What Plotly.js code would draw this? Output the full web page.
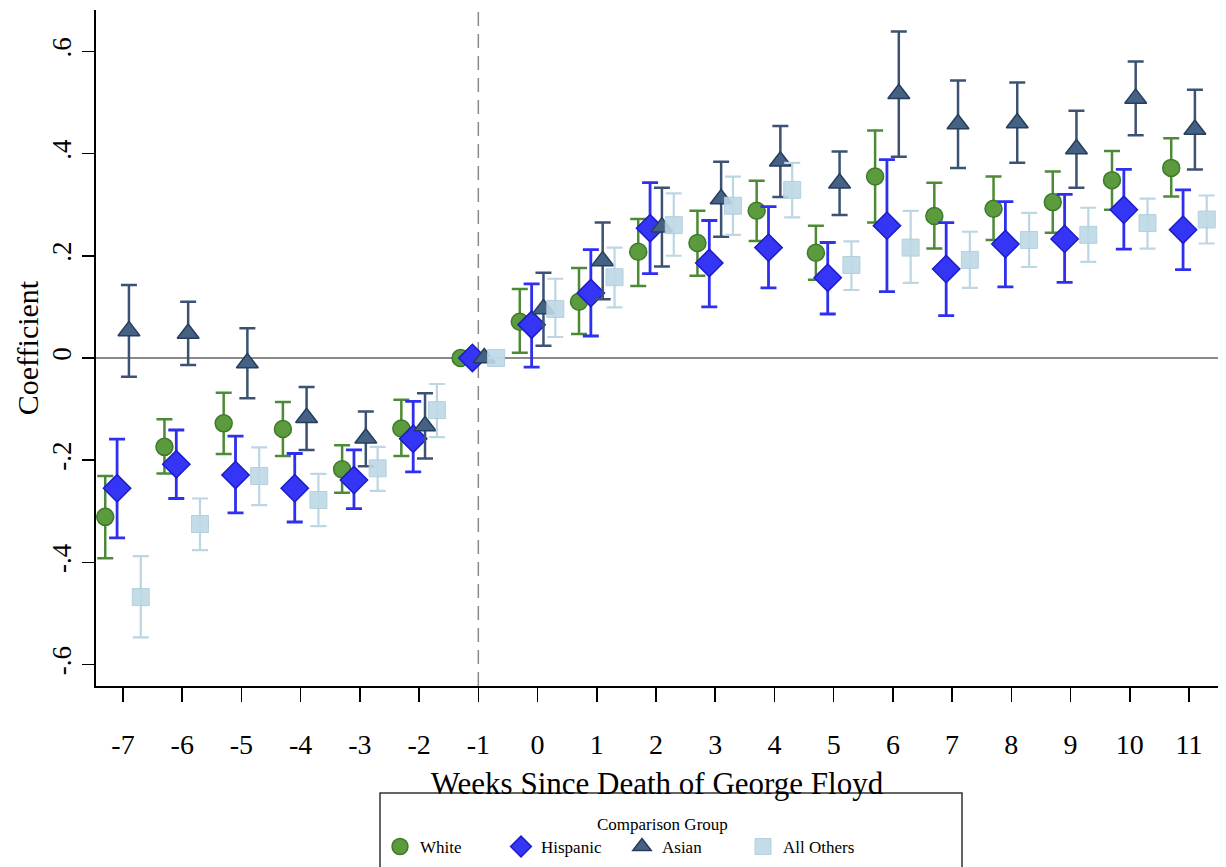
<!DOCTYPE html>
<html>
<head>
<meta charset="utf-8">
<script src="https://cdn.plot.ly/plotly-3.0.1.min.js"></script>
<style>html,body{margin:0;padding:0;background:#fff;}#chart{width:1226px;height:867px;}</style>
</head>
<body>
<div id="chart"></div>
<script>
// Weeks since death of George Floyd
const weeks = [-7,-6,-5,-4,-3,-2,-1,0,1,2,3,4,5,6,7,8,9,10,11];
const xTickLabels = ["-7","-6","-5","-4","-3","-2","-1","0","1","2","3","4","5","6","7","8","9","10","11"];
const yTickVals = [-0.6,-0.4,-0.2,0,0.2,0.4,0.6];
const yTickLabels = ["-.6","-.4","-.2","0",".2",".4",".6"];

// White
const white   = [-0.311,-0.174,-0.128,-0.139,-0.218,-0.138,0,0.071,0.110,0.208,0.225,0.288,0.206,0.355,0.278,0.292,0.305,0.348,0.372];
const whiteLo = [-0.392,-0.226,-0.188,-0.192,-0.264,-0.192,null,0.010,0.047,0.141,0.161,0.229,0.153,0.265,0.214,0.231,0.245,0.290,0.316];
const whiteHi = [-0.231,-0.120,-0.068,-0.086,-0.171,-0.082,null,0.135,0.176,0.272,0.288,0.347,0.259,0.445,0.343,0.355,0.365,0.405,0.430];
// Hispanic
const hisp    = [-0.255,-0.208,-0.229,-0.255,-0.239,-0.158,0,0.065,0.127,0.254,0.186,0.216,0.157,0.259,0.174,0.223,0.233,0.290,0.251];
const hispLo  = [-0.352,-0.275,-0.303,-0.321,-0.295,-0.223,null,-0.018,0.043,0.165,0.100,0.137,0.086,0.130,0.083,0.139,0.148,0.213,0.173];
const hispHi  = [-0.159,-0.141,-0.153,-0.187,-0.180,-0.085,null,0.145,0.212,0.343,0.269,0.296,0.226,0.388,0.265,0.306,0.320,0.369,0.329];
// Asian
const asian   = [0.053,0.048,-0.010,-0.117,-0.157,-0.133,0,0.096,0.190,0.256,0.311,0.385,0.342,0.517,0.458,0.460,0.409,0.508,0.447];
const asianLo = [-0.037,-0.014,-0.079,-0.180,-0.212,-0.197,null,0.024,0.115,0.179,0.237,0.315,0.280,0.394,0.372,0.382,0.333,0.436,0.369];
const asianHi = [0.143,0.110,0.058,-0.057,-0.105,-0.069,null,0.167,0.265,0.333,0.384,0.454,0.404,0.639,0.543,0.539,0.484,0.580,0.525];
// All Others
const others   = [-0.468,-0.325,-0.231,-0.278,-0.216,-0.102,0,0.096,0.158,0.260,0.298,0.329,0.182,0.216,0.192,0.231,0.241,0.264,0.271];
const othersLo = [-0.547,-0.376,-0.288,-0.329,-0.260,-0.155,null,0.041,0.099,0.200,0.241,0.275,0.133,0.147,0.137,0.178,0.188,0.214,0.224];
const othersHi = [-0.388,-0.275,-0.175,-0.227,-0.174,-0.051,null,0.155,0.216,0.322,0.355,0.382,0.228,0.288,0.247,0.284,0.294,0.312,0.318];

const legendTitle = 'Comparison Group';
const FONT = "Liberation Serif, Times New Roman, serif";

function series(name, vals, lo, hi, dodge, marker, errColor, errWidth) {
  return {
    type: 'scatter', mode: 'markers', name: name,
    x: weeks.map(w => w + dodge),
    y: vals,
    error_y: {
      type: 'data', symmetric: false,
      array: vals.map((v, i) => hi[i] == null ? null : hi[i] - v),
      arrayminus: vals.map((v, i) => lo[i] == null ? null : v - lo[i]),
      color: errColor, thickness: errWidth, width: 8
    },
    marker: marker,
    cliponaxis: false
  };
}

const traces = [
  series('White', white, whiteLo, whiteHi, -0.3,
    {symbol: 'circle', size: 17, color: '#5b9a3d', line: {color: '#3d7a2a', width: 1.5}}, '#4d8a35', 2.5),
  series('Hispanic', hisp, hispLo, hispHi, -0.1,
    {symbol: 'diamond', size: 21, color: '#3535f5', line: {color: '#1c1cc8', width: 1.5}}, '#2f2ff0', 2.8),
  series('Asian', asian, asianLo, asianHi, 0.1,
    {symbol: 'triangle-up', size: 19, color: '#456184', line: {color: '#263d5c', width: 1.5}}, '#3c5272', 2.5),
  series('All Others', others, othersLo, othersHi, 0.3,
    {symbol: 'square', size: 17, color: 'rgba(190,216,229,0.9)', line: {color: 'rgba(175,205,220,0.9)', width: 1}}, '#bcd6e3', 2.2)
];

const px2paperX = p => (p - 96) / 1122;
const px2paperY = p => (686 - p) / 676;

const layout = {
  width: 1226, height: 867,
  margin: {l: 96, r: 8, t: 10, b: 181, autoexpand: false},
  paper_bgcolor: '#ffffff', plot_bgcolor: '#ffffff',
  font: {family: FONT, color: '#000'},
  showlegend: true,
  xaxis: {
    range: [-7.456, 11.49],
    tickmode: 'array', tickvals: weeks, ticktext: xTickLabels,
    ticks: 'outside', ticklen: 14, tickwidth: 1.5, tickcolor: '#000',
    ticklabelstandoff: 18,
    showline: true, linecolor: '#000', linewidth: 2,
    showgrid: false, zeroline: false,
    tickfont: {family: FONT, size: 28, color: '#000'},
    title: {text: 'Weeks Since Death of George Floyd', font: {family: FONT, size: 31, color: '#000'}, standoff: 14}
  },
  yaxis: {
    range: [-0.642, 0.681],
    tickmode: 'array', tickvals: yTickVals, ticktext: yTickLabels,
    ticks: 'outside', ticklen: 12, tickwidth: 1.5, tickcolor: '#000',
    tickangle: -90,
    showline: true, linecolor: '#000', linewidth: 2,
    showgrid: false,
    zeroline: true, zerolinecolor: '#8a8a8a', zerolinewidth: 1.5,
    tickfont: {family: FONT, size: 27, color: '#000'},
    title: {text: 'Coefficient', font: {family: FONT, size: 30, color: '#000'}, standoff: 0}
  },
  shapes: [
    {type: 'line', xref: 'x', yref: 'paper', x0: -1, x1: -1, y0: 0, y1: 1,
     line: {color: '#8a8a8a', width: 1.5, dash: '14px,8px'}, layer: 'below'},
    {type: 'rect', xref: 'paper', yref: 'paper',
     x0: px2paperX(380), x1: px2paperX(962), y0: px2paperY(793), y1: px2paperY(900),
     line: {color: '#333', width: 1.5}, fillcolor: 'rgba(0,0,0,0)'}
  ],
  annotations: [
    {xref: 'paper', yref: 'paper', x: px2paperX(662), y: px2paperY(825),
     xanchor: 'center', yanchor: 'middle', showarrow: false, text: legendTitle,
     font: {family: FONT, size: 17, color: '#000'}}
  ],
  legend: {
    orientation: 'h', x: px2paperX(380), xanchor: 'left',
    y: px2paperY(829), yanchor: 'top',
    bgcolor: 'rgba(0,0,0,0)', borderwidth: 0,
    font: {family: FONT, size: 17, color: '#000'},
    itemwidth: 30, entrywidth: 76, entrywidthmode: 'pixels',
    itemsizing: 'trace', traceorder: 'normal', itemclick: false
  }
};

Plotly.newPlot('chart', traces, layout, {staticPlot: true, displayModeBar: false});
</script>
</body>
</html>
